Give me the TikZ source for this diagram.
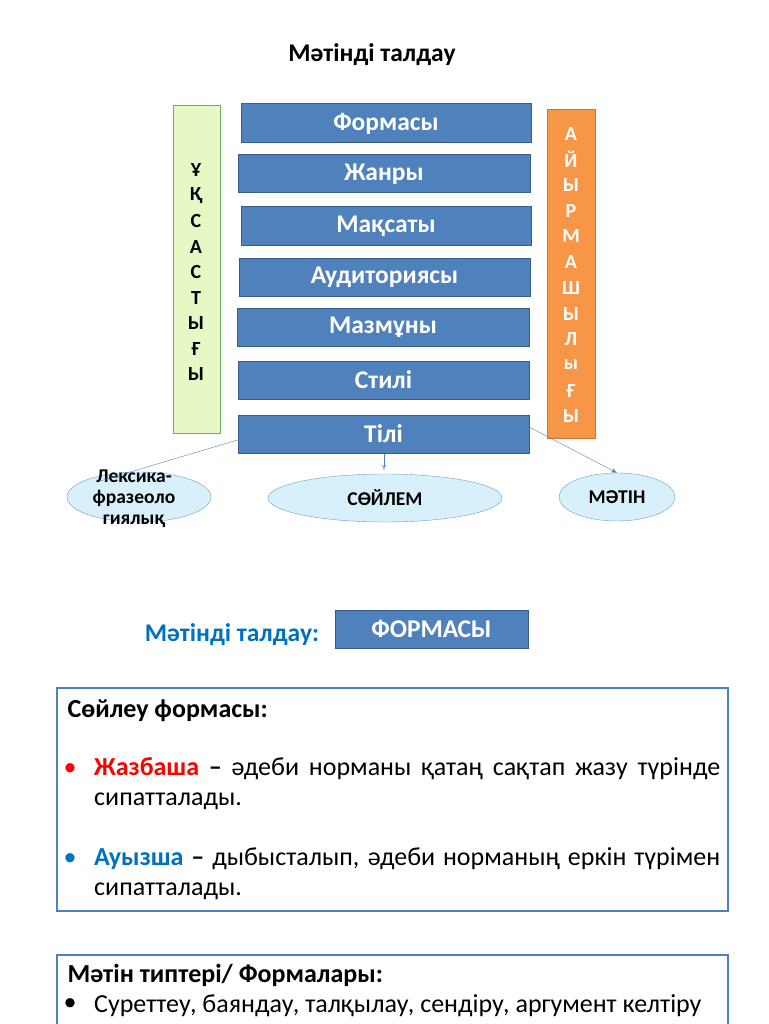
\documentclass[tikz,border=0pt]{standalone}
\usepackage{fontspec}
\setmainfont{Carlito}
\usetikzlibrary{shapes.geometric,arrows.meta}
\definecolor{bx}{HTML}{4F81BD}
\definecolor{bxd}{HTML}{385D8A}
\definecolor{grn}{HTML}{E6F9C4}
\definecolor{org}{HTML}{F79646}
\definecolor{ell}{HTML}{D7F0FA}
\definecolor{ttl}{HTML}{0070C0}
\begin{document}
\begin{tikzpicture}[x=1pt,y=-1pt,
 bbox/.style={draw=bxd,fill=bx,line width=1pt,text=white,font=\fontsize{25.5}{28}\selectfont\bfseries},
 ov/.style={ellipse,draw=bx!80,fill=ell,font=\fontsize{19.5}{22}\selectfont\bfseries,inner sep=0pt},
 para/.style={anchor=north west,text width=626pt,align=justify,font=\fontsize{26}{30}\selectfont,inner sep=0pt},
 frame/.style={draw=bx,line width=1.2pt}]
\useasboundingbox (0,0) rectangle (768,1024);
\node (title) at (372,55) {\fontsize{25.5}{28}\selectfont\bfseries Мәтінді талдау};
\foreach \n/\xa/\xb/\ya/\yb/\t in {f/241/531/104/143/Формасы, zh/238/530/155/193/Жанры, m/241/531/207/245/Мақсаты, a/239/530/258/296/Аудиториясы, mz/237/529/308/346/Мазмұны, s/238/529/361/399/Стилі, t/238/529/415/453/Тілі}
 \node[bbox,minimum width={\xb-\xa},minimum height={\yb-\ya},inner sep=0pt] (\n) at ({(\xa+\xb)/2},{(\ya+\yb)/2}) {\t};
\node[draw=green!50!black!60,fill=grn,minimum width=47pt,minimum height=328pt,inner sep=0pt] (g) at (196.5,269) {};
\foreach \c [count=\i] in {Ұ,Қ,С,А,С,Т,Ы,Ғ,Ы}
 \node[font=\fontsize{20}{22}\selectfont\bfseries] at (196,{145+25.5*\i}) {\c};
\node[fill=org,draw=org!80!black,minimum width=48pt,minimum height=329pt,inner sep=0pt] (o) at (571,273.5) {};
\foreach \c [count=\i] in {А,Й,Ы,Р,М,А,Ш,Ы,Л,ы,Ғ,Ы}
 \node[text=white,font=\fontsize{20}{22}\selectfont\bfseries] at (571,{108+25.7*\i}) {\c};
\node[ov,minimum width=144pt,minimum height=50pt] (e1) at (139,497) {};
\node[font=\fontsize{19.5}{21}\selectfont\bfseries,align=center] at (134,499) {Лексика-\\фразеоло\\гиялық};
\node[ov,minimum width=234pt,minimum height=48pt] (e2) at (385,498) {СӨЙЛЕМ};
\node[ov,minimum width=116pt,minimum height=48pt] (e3) at (617,497) {МӘТІН};
\draw[bx] (t.west |- 0,440) -- (100,481);
\draw[bx,-{Stealth[length=5pt,open]}] (t.south -| 384,0) -- (384,470);
\draw[bx,-{Stealth[length=6pt]}] (529,427) -- (e3.north);
\node[text=ttl,font=\fontsize{25.5}{28}\selectfont\bfseries] (mt) at (232,635) {Мәтінді талдау:};
\node[bbox,minimum width=193pt,minimum height=38pt,inner sep=0pt] (fm) at (431.5,629) {ФОРМАСЫ};
\draw[frame] (57,688) rectangle (728,911);
\node[anchor=west,font=\fontsize{26}{28}\selectfont\bfseries] at (64,711) {Сөйлеу формасы:};
\node[text=red,font=\fontsize{26}{28}\selectfont] at (70,770) {•};
\node[para] at (94,757) {\textcolor{red}{\bfseries Жазбаша} \textbf{–} әдеби норманы қатаң сақтап жазу түрінде сипатталады.};
\node[text=ttl,font=\fontsize{26}{28}\selectfont] at (70,860) {•};
\node[para] at (94,847) {\textcolor{ttl}{\bfseries Ауызша} \textbf{–} дыбысталып, әдеби норманың еркін түрімен сипатталады.};
\draw[frame] (57,1030) -- (57,955) -- (728,955) -- (728,1030);
\node[anchor=west,font=\fontsize{26}{28}\selectfont\bfseries] at (64,975) {Мәтін типтері/ Формалары:};
\node[font=\fontsize{26}{28}\selectfont] at (70,1005) {•};
\node[anchor=west,font=\fontsize{26}{28}\selectfont,inner sep=0pt] at (94,1006) {Суреттеу, баяндау, талқылау, сендіру, аргумент келтіру};
\end{tikzpicture}
\end{document}
